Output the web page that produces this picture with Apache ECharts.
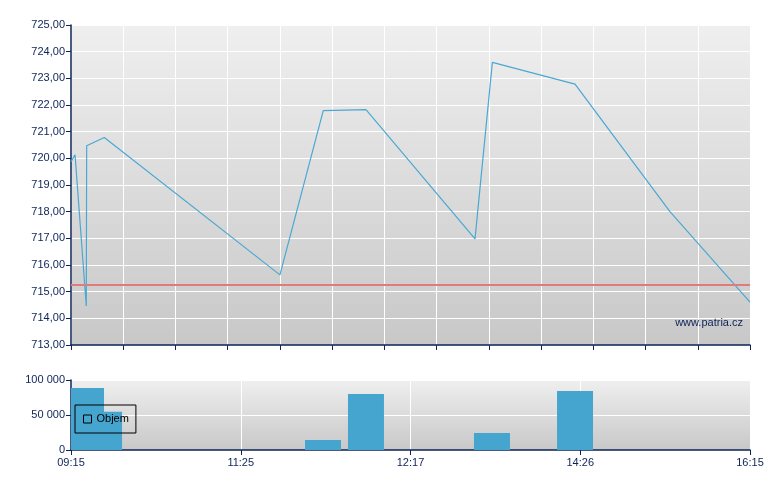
<!DOCTYPE html>
<html>
<head>
<meta charset="utf-8">
<script src="https://cdn.jsdelivr.net/npm/echarts@6/dist/echarts.min.js"></script>
<style>
html,body{margin:0;padding:0;background:#fff;}
#c{width:780px;height:490px;}
</style>
</head>
<body>
<div id="c"></div>
<script>
// Axis positions are in "trade slot" units: 0 = 09:15, 52 = 16:15
const timeLabels = ['09:15', '11:25', '12:17', '14:26', '16:15'];
const priceX = [0, 0.31, 1.17, 1.2, 2.55, 16.0, 19.32, 22.59, 30.94, 32.27, 38.6, 45.87, 52];
const priceY = [719.87, 720.13, 714.46, 720.47, 720.78, 715.63, 721.79, 721.83, 716.98, 723.6, 722.78, 718.0, 714.61];
const prevClose = 715.25;
const volX = [1.15, 2.53, 19.3, 22.59, 32.24, 38.6];
const volY = [88500, 54500, 14300, 80000, 24300, 84300];
const volName = 'Objem';
const watermark = 'www.patria.cz';

const navy = '#0d2357';
const barColor = '#46a5cf';
const BAR_W = 36;
const font = 'Arial, "Liberation Sans", sans-serif';
const bg = {type: 'linear', x: 0, y: 0, x2: 0, y2: 1,
  colorStops: [{offset: 0, color: '#efefef'}, {offset: 1, color: '#c8c8c8'}]};

function renderBar(params, api) {
  const top = api.coord([api.value(0), api.value(1)]);
  const base = api.coord([api.value(0), 0]);
  const cs = params.coordSys;
  const rect = echarts.graphic.clipRectByRect(
    {x: top[0] - BAR_W / 2, y: top[1], width: BAR_W, height: base[1] - top[1]},
    {x: cs.x, y: cs.y, width: cs.width, height: cs.height});
  return rect && {type: 'rect', shape: rect, style: {fill: barColor}};
}

const chart = echarts.init(document.getElementById('c'), null, {renderer: 'canvas'});
chart.setOption({
  animation: false,
  backgroundColor: '#ffffff',
  textStyle: {fontFamily: font},
  grid: [
    {left: 71, right: 30, top: 25, height: 320, show: true, backgroundColor: bg, borderWidth: 0},
    {left: 71, right: 30, top: 380, height: 70, show: true, backgroundColor: bg, borderWidth: 0}
  ],
  xAxis: [
    {gridIndex: 0, type: 'value', min: 0, max: 52, interval: 4,
      axisLine: {show: true, onZero: false, lineStyle: {color: navy, width: 1.5}},
      axisTick: {show: true, length: 5, lineStyle: {color: navy, width: 1}},
      axisLabel: {show: false},
      splitLine: {show: true, lineStyle: {color: '#ffffff', width: 1}}},
    {gridIndex: 1, type: 'value', min: 0, max: 52, interval: 13,
      axisLine: {show: true, onZero: false, lineStyle: {color: navy, width: 1.5}},
      axisTick: {show: true, length: 5, lineStyle: {color: navy, width: 1}},
      axisLabel: {show: true, color: navy, fontSize: 11, fontFamily: font, margin: 7,
        formatter: v => timeLabels[Math.round(v / 13)]},
      splitLine: {show: true, lineStyle: {color: '#ffffff', width: 1}}}
  ],
  yAxis: [
    {gridIndex: 0, type: 'value', min: 713, max: 725, interval: 1,
      axisLine: {show: true, lineStyle: {color: navy, width: 1.5}},
      axisTick: {show: true, length: 5, lineStyle: {color: navy, width: 1}},
      axisLabel: {color: navy, fontSize: 11, fontFamily: font, margin: 6,
        formatter: v => v.toFixed(2).replace('.', ',')},
      splitLine: {show: true, lineStyle: {color: '#ffffff', width: 1}}},
    {gridIndex: 1, type: 'value', min: 0, max: 100000, interval: 50000,
      axisLine: {show: true, lineStyle: {color: navy, width: 1.5}},
      axisTick: {show: true, length: 5, lineStyle: {color: navy, width: 1}},
      axisLabel: {color: navy, fontSize: 11, fontFamily: font, margin: 6,
        formatter: v => String(v).replace(/\B(?=(\d{3})+(?!\d))/g, ' ')},
      splitLine: {show: true, lineStyle: {color: '#ffffff', width: 1}}}
  ],
  legend: {
    show: true, left: 75, top: 405, orient: 'horizontal',
    borderColor: '#000', borderWidth: 1, padding: [8, 7, 8, 8],
    itemWidth: 8, itemHeight: 8, itemGap: 5,
    textStyle: {color: '#000', fontSize: 11, fontFamily: font, lineHeight: 12},
    data: [{name: volName, icon: 'rect',
      itemStyle: {color: 'rgba(0,0,0,0)', borderColor: '#000', borderWidth: 1}}]
  },
  graphic: [{
    type: 'text', right: 37, top: 317, z: 10,
    style: {text: watermark, fill: navy, font: '11px ' + font}
  }],
  series: [
    {type: 'line', xAxisIndex: 0, yAxisIndex: 0, name: 'Kurz',
      data: priceX.map((x, i) => [x, priceY[i]]),
      showSymbol: false, symbol: 'none',
      lineStyle: {color: '#4aa8d2', width: 1.2},
      markLine: {silent: true, symbol: 'none', label: {show: false},
        lineStyle: {color: '#e07b7b', width: 2, type: 'solid'},
        data: [{yAxis: prevClose}]},
      z: 3},
    {type: 'custom', xAxisIndex: 1, yAxisIndex: 1, name: volName,
      data: volX.map((x, i) => [x, volY[i]]),
      renderItem: renderBar, itemStyle: {color: barColor},
      encode: {x: 0, y: 1}, z: 2}
  ]
});
</script>
</body>
</html>
